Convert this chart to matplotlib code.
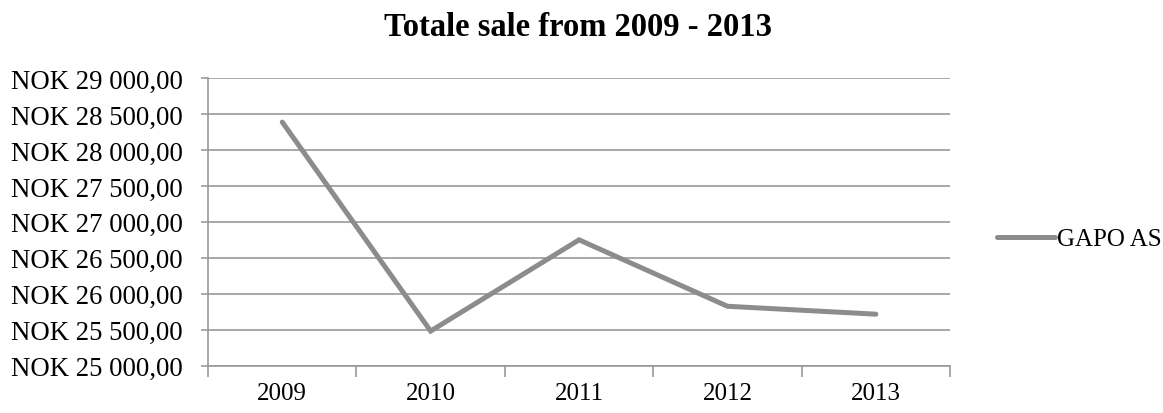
import matplotlib.pyplot as plt
from matplotlib.ticker import FuncFormatter, FixedLocator

# Data
years = ["2009", "2010", "2011", "2012", "2013"]
sales = [28390, 25480, 26750, 25825, 25715]
series_name = "GAPO AS"

plt.rcParams['font.family'] = ['Liberation Serif', 'DejaVu Serif']

fig = plt.figure(figsize=(11.63, 4.14), dpi=100)
ax = fig.add_axes([0.1789, 0.1147, 0.8169 - 0.1789, 0.8085 - 0.1147])

x = list(range(len(years)))
ax.plot(x, sales, color='#8c8c8c', linewidth=3.6, solid_capstyle='round',
        solid_joinstyle='miter', label=series_name, zorder=3)

ax.set_xlim(-0.5, len(years) - 0.5)
ax.set_ylim(25000, 29000)
ax.set_yticks(range(25000, 29001, 500))


def nok(v, pos):
    s = f"{int(v):,}".replace(",", " ")
    return f"NOK {s},00"


ax.yaxis.set_major_formatter(FuncFormatter(nok))
ax.set_xticks(x)
ax.set_xticklabels(years)
ax.xaxis.set_minor_locator(FixedLocator([i - 0.5 for i in range(len(years) + 1)]))
ax.tick_params(axis='x', which='major', length=0, pad=12, labelsize=18)
ax.tick_params(axis='x', which='minor', length=8, width=1.2, color='#999999')
ax.tick_params(axis='y', length=5, width=1.2, color='#999999', labelsize=19.3, pad=13)

ax.grid(axis='y', color='#999999', linewidth=1.2)
ax.set_axisbelow(True)
for side in ['top', 'right']:
    ax.spines[side].set_visible(False)
for side in ['left', 'bottom']:
    ax.spines[side].set_color('#999999')
    ax.spines[side].set_linewidth(1.2)

fig.suptitle("Totale sale from 2009 - 2013", fontsize=23.5, fontweight='bold',
             x=0.497, y=0.97, va='top')

ax.legend(loc='center left', bbox_to_anchor=(1.05, 0.44), frameon=False,
          fontsize=18, handlelength=2.3, handletextpad=0.1, borderaxespad=0)

fig.savefig("out.png", dpi=100)
